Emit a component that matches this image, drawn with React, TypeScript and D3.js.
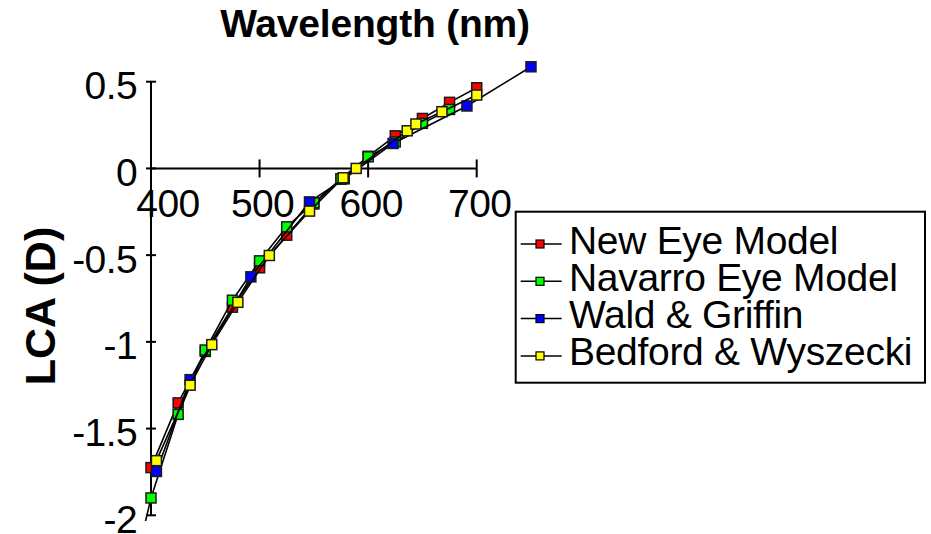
import React from "react";
import * as d3 from "d3";

// wavelength (nm) and LCA (D)
const newEyeWl = [400, 425, 450, 475, 500, 525, 550, 575, 600, 625, 650, 675, 700];
const newEyeLca = [-1.725, -1.352, -1.055, -0.8, -0.573, -0.385, -0.205, -0.062, 0.07, 0.188, 0.288, 0.381, 0.465];

const navarroWl = [380, 400, 425, 450, 475, 500, 525, 550, 575, 600, 625, 650, 675];
const navarroLca = [-2.43, -1.9, -1.418, -1.047, -0.76, -0.533, -0.337, -0.198, -0.06, 0.067, 0.153, 0.26, 0.34];

const waldWl = [405, 436, 492, 546, 578, 623, 691, 750];
const waldLca = [-1.747, -1.218, -0.625, -0.193, -0.06, 0.144, 0.36, 0.586];

const bedfordWl = [405, 436, 456, 480, 509, 546, 577, 589, 636, 644, 668, 700];
const bedfordLca = [-1.685, -1.25, -1.016, -0.772, -0.502, -0.246, -0.054, 0.0, 0.217, 0.256, 0.327, 0.423];

const seriesNames = ["New Eye Model", "Navarro Eye Model", "Wald & Griffin", "Bedford & Wyszecki"];
const seriesColors = ["#ff0000", "#00ff00", "#0000ff", "#ffff00"];

const xTicks = [400, 500, 600, 700];
const yTicks = [0.5, 0, -0.5, -1, -1.5, -2];
const yTickLabels = ["0.5", "0", "-0.5", "-1", "-1.5", "-2"];

const FONT = "'Liberation Sans', Arial, sans-serif";

export default function App() {
  const width = 931;
  const height = 534;

  const x = d3.scaleLinear().domain([400, 700]).range([151, 476.7]);
  const y = d3.scaleLinear().domain([-2, 0.5]).range([515.3, 81.7]);

  const series = [
    { wl: newEyeWl, lca: newEyeLca },
    { wl: navarroWl, lca: navarroLca },
    { wl: waldWl, lca: waldLca },
    { wl: bedfordWl, lca: bedfordLca },
  ].map((s, i) => ({
    name: seriesNames[i],
    color: seriesColors[i],
    points: s.wl.map((w, j) => [w, s.lca[j]] as [number, number]),
  }));

  const line = d3
    .line<[number, number]>()
    .x((d) => x(d[0]))
    .y((d) => y(d[1]));

  const ms = 10;
  const y0 = y(0);

  return (
    <svg
      width={width}
      height={height}
      style={{ position: "absolute", left: 0, top: 0, background: "#fff" }}
      fontFamily={FONT}
    >
      <defs>
        <clipPath id="plot">
          <rect x={0} y={0} width={width} height={521} />
        </clipPath>
      </defs>

      {/* title */}
      <text x={375} y={37} textAnchor="middle" fontSize={39} fontWeight="bold" letterSpacing={-0.2}>
        Wavelength (nm)
      </text>

      {/* y axis title */}
      <text
        transform={`translate(55,306) rotate(-90)`}
        textAnchor="middle"
        fontSize={43}
        fontWeight="bold"
      >
        LCA (D)
      </text>

      {/* axes */}
      <line x1={x(400)} x2={x(400)} y1={y(0.5)} y2={y(-2)} stroke="#000" strokeWidth={2} />
      <line x1={x(400)} x2={x(700)} y1={y0} y2={y0} stroke="#000" strokeWidth={2} />
      {yTicks.map((t, i) => (
        <g key={"yt" + t}>
          <line x1={x(400) - 5} x2={x(400) + 5} y1={y(t)} y2={y(t)} stroke="#000" strokeWidth={2} />
          <text x={137} y={y(t) + 17.5} textAnchor="end" fontSize={39} letterSpacing={-0.6}>
            {yTickLabels[i]}
          </text>
        </g>
      ))}
      {xTicks.map((t, i) => (
        <g key={"xt" + t}>
          <line x1={x(t)} x2={x(t)} y1={y0 - 9} y2={y0 + 9} stroke="#000" strokeWidth={2} />
          <text x={x(t) + (i === 0 ? 17 : 3)} y={217} textAnchor="middle" fontSize={39} letterSpacing={-0.6}>
            {t}
          </text>
        </g>
      ))}

      {/* series */}
      <g clipPath="url(#plot)">
        {series.map((s) => (
          <g key={s.name}>
            <path d={line(s.points) || ""} fill="none" stroke="#000" strokeWidth={1.6} />
            {s.points.map((p, j) => (
              <rect
                key={j}
                x={x(p[0]) - ms / 2}
                y={y(p[1]) - ms / 2}
                width={ms}
                height={ms}
                fill={s.color}
                stroke="#1a1a1a"
                strokeWidth={1.5}
              />
            ))}
          </g>
        ))}
      </g>

      {/* legend */}
      <rect x={515.7} y={211.7} width={409.3} height={171} fill="#fff" stroke="#000" strokeWidth={2} />
      {series.map((s, i) => {
        const ly = 244 + i * 37.3;
        return (
          <g key={"lg" + s.name}>
            <line x1={520.7} x2={561.7} y1={ly} y2={ly} stroke="#000" strokeWidth={1.5} />
            <rect x={540 - 4} y={ly - 4} width={8} height={8} fill={s.color} stroke="#000" strokeWidth={1.2} />
            <text x={569} y={ly + 9.5} fontSize={39} letterSpacing={-0.3}>
              {s.name}
            </text>
          </g>
        );
      })}
    </svg>
  );
}
